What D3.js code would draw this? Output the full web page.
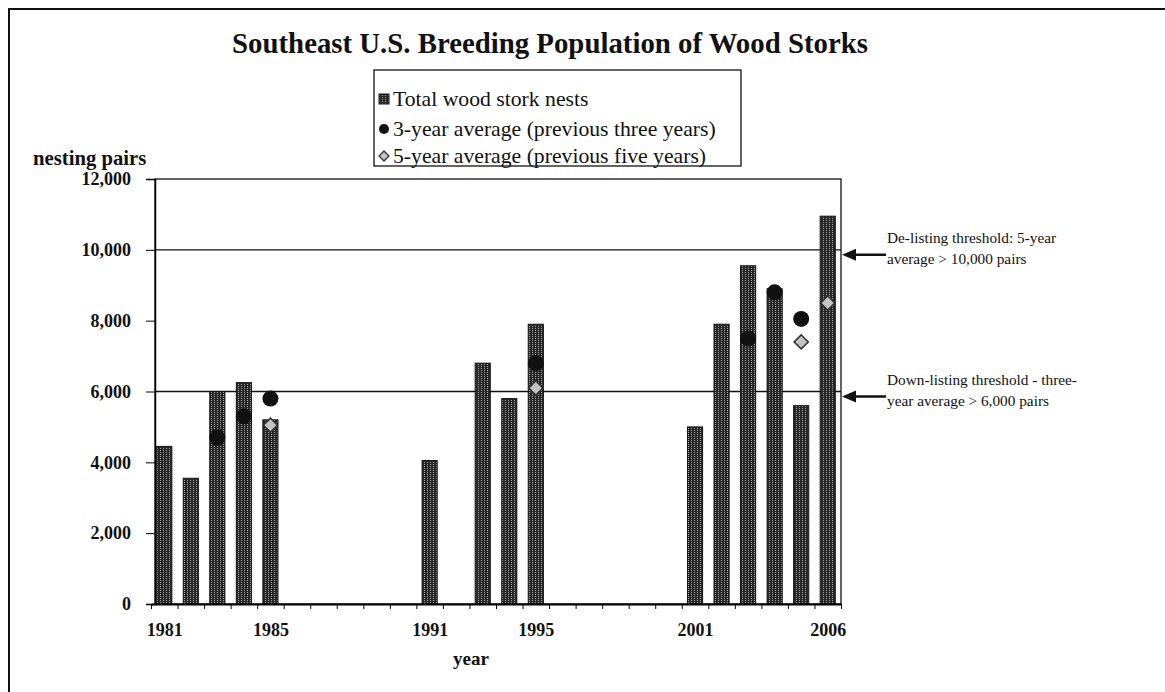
<!DOCTYPE html>
<html>
<head>
<meta charset="utf-8">
<script src="https://d3js.org/d3.v7.min.js"></script>
<style>
  body { margin: 0; background: #fff; }
  text { font-family: "Liberation Serif", "Times New Roman", serif; fill: #111; }
</style>
</head>
<body>
<svg width="1165" height="692"></svg>
<script>
// nests counted per year (gaps = no survey)
var nestYears = [1981, 1982, 1983, 1984, 1985, 1991, 1993, 1994, 1995, 2001, 2002, 2003, 2004, 2005, 2006];
var nests     = [4450, 3550, 6000, 6250, 5200, 4050, 6800, 5800, 7900, 5000, 7900, 9550, 8900, 5600, 10950];

var avg3Years = [1983, 1984, 1985, 1995, 2003, 2004, 2005];
var avg3      = [4700, 5300, 5800, 6800, 7500, 8800, 8050];

var avg5Years = [1985, 1995, 2005, 2006];
var avg5      = [5050, 6100, 7400, 8500];

var yTicks = [0, 2000, 4000, 6000, 8000, 10000, 12000];
var xLabelYears = [1981, 1985, 1991, 1995, 2001, 2006];

var thresholds = [10000, 6000];
var thresholdNotes = [
  ["De-listing threshold: 5-year", "average > 10,000 pairs"],
  ["Down-listing threshold - three-", "year average > 6,000 pairs"]
];

var legendLabels = ["Total wood stork nests",
                    "3-year average (previous three years)",
                    "5-year average (previous five years)"];

var svg = d3.select("svg"),
    width = +svg.attr("width"),
    height = +svg.attr("height");

var plotL = 155, plotR = 841, plotT = 179, plotB = 604;

// year axis: one slot per year, bars sit in the middle of a slot
var x = d3.scaleLinear().domain([1980.5, 2006.5]).range([151, plotR]);
var y = d3.scaleLinear().domain([0, 12000]).range([plotB, plotT]);
var step = x(1) - x(0);
var barW = step * 0.57;

// stippled fill for the bars
var defs = svg.append("defs");
var pat = defs.append("pattern")
    .attr("id", "stipple")
    .attr("width", 3).attr("height", 2)
    .attr("patternUnits", "userSpaceOnUse");
pat.append("rect").attr("width", 3).attr("height", 2).attr("fill", "#282828");
pat.append("rect").attr("x", 1).attr("width", 1).attr("height", 1).attr("fill", "#a0a0a0");

// page frame
svg.append("path")
    .attr("d", "M9," + height + "V9H" + width)
    .attr("fill", "none")
    .attr("stroke", "#111")
    .attr("stroke-width", 2);

svg.append("text")
    .attr("x", 550).attr("y", 53)
    .attr("text-anchor", "middle")
    .attr("font-size", 28.8)
    .attr("font-weight", "bold")
    .text("Southeast U.S. Breeding Population of Wood Storks");

// plot box
svg.append("rect")
    .attr("x", plotL).attr("y", plotT)
    .attr("width", plotR - plotL).attr("height", plotB - plotT)
    .attr("fill", "none")
    .attr("stroke", "#111")
    .attr("stroke-width", 1.3);

svg.append("g")
    .attr("class", "thresholds")
  .selectAll("line")
  .data(thresholds)
  .enter().append("line")
    .attr("x1", plotL).attr("x2", plotR)
    .attr("y1", function(d) { return y(d); })
    .attr("y2", function(d) { return y(d); })
    .attr("stroke", "#111")
    .attr("stroke-width", 1.3);

var bars = nestYears.map(function(yr, i) { return {year: yr, value: nests[i]}; });

svg.append("g")
    .attr("class", "bars")
  .selectAll("rect")
  .data(bars)
  .enter().append("rect")
    .attr("x", function(d) { return x(d.year) - barW / 2; })
    .attr("y", function(d) { return y(d.value); })
    .attr("width", barW)
    .attr("height", function(d) { return plotB - y(d.value); })
    .attr("fill", "url(#stipple)")
    .attr("stroke", "#111")
    .attr("stroke-width", 1);

var dots3 = avg3Years.map(function(yr, i) { return {year: yr, value: avg3[i]}; });
var dots5 = avg5Years.map(function(yr, i) { return {year: yr, value: avg5[i]}; });

svg.append("g")
    .attr("class", "avg3")
  .selectAll("circle")
  .data(dots3)
  .enter().append("circle")
    .attr("cx", function(d) { return x(d.year); })
    .attr("cy", function(d) { return y(d.value); })
    .attr("r", 8)
    .attr("fill", "#111");

// 5-year marker: a square turned 45 degrees
var diamond = d3.symbol().type(d3.symbolSquare).size(100);

svg.append("g")
    .attr("class", "avg5")
  .selectAll("path")
  .data(dots5)
  .enter().append("path")
    .attr("transform", function(d) { return "translate(" + x(d.year) + "," + y(d.value) + ") rotate(45)"; })
    .attr("d", diamond)
    .attr("fill", "#c4c4c4")
    .attr("stroke", "#333")
    .attr("stroke-width", 1.6);

// axes
var yAxis = d3.axisLeft(y)
    .tickValues(yTicks)
    .tickFormat(d3.format(","))
    .tickSize(9)
    .tickPadding(15);

var gy = svg.append("g")
    .attr("transform", "translate(" + plotL + ",0)")
    .call(yAxis);
gy.select(".domain").attr("stroke-width", 1.5);
gy.selectAll("text")
    .attr("font-size", 18)
    .attr("font-weight", "bold")
    .attr("font-family", "Liberation Serif, serif");

var slotEdges = d3.range(1980.5, 2007, 1);

var gx = svg.append("g")
    .attr("transform", "translate(0," + plotB + ")")
    .call(d3.axisBottom(x).tickValues(slotEdges).tickFormat("").tickSize(5).tickSizeOuter(0));
gx.select(".domain").attr("stroke-width", 2);

var gxl = svg.append("g")
    .attr("transform", "translate(0," + plotB + ")")
    .call(d3.axisBottom(x).tickValues(xLabelYears).tickFormat(d3.format("d")).tickSize(0).tickPadding(19));
gxl.select(".domain").remove();
gxl.selectAll("text")
    .attr("font-size", 18)
    .attr("font-weight", "bold")
    .attr("font-family", "Liberation Serif, serif");

svg.append("text")
    .attr("x", 33).attr("y", 165)
    .attr("font-size", 20.7)
    .attr("font-weight", "bold")
    .text("nesting pairs");

svg.append("text")
    .attr("x", 471).attr("y", 665)
    .attr("text-anchor", "middle")
    .attr("font-size", 19)
    .attr("font-weight", "bold")
    .text("year");

// threshold notes with arrows
var notes = svg.append("g").attr("class", "notes")
  .selectAll("g")
  .data(thresholds)
  .enter().append("g")
    .attr("transform", function(d) { return "translate(0," + y(d) + ")"; });

notes.append("line")
    .attr("x1", 852).attr("x2", 886)
    .attr("y1", 5).attr("y2", 5)
    .attr("stroke", "#111")
    .attr("stroke-width", 2.5);

notes.append("path")
    .attr("d", "M842,5L856,-1L856,11Z")
    .attr("fill", "#111");

notes.append("text")
    .attr("x", 887).attr("y", -7)
    .attr("font-size", 15.3)
    .text(function(d, i) { return thresholdNotes[i][0]; });

notes.append("text")
    .attr("x", 887).attr("y", 14)
    .attr("font-size", 15.3)
    .text(function(d, i) { return thresholdNotes[i][1]; });

// legend
var legend = svg.append("g").attr("class", "legend");
legend.append("rect")
    .attr("x", 374).attr("y", 70)
    .attr("width", 367).attr("height", 96)
    .attr("fill", "#fff")
    .attr("stroke", "#111")
    .attr("stroke-width", 1.3);

var rowY = [99, 129, 156];
var items = legend.selectAll("g.item")
  .data(legendLabels)
  .enter().append("g")
    .attr("class", "item")
    .attr("transform", function(d, i) { return "translate(384," + rowY[i] + ")"; });

items.append("text")
    .attr("x", 9).attr("y", 7)
    .attr("font-size", 21.7)
    .text(function(d) { return d; });

items.filter(function(d, i) { return i === 0; })
  .append("rect")
    .attr("x", -5).attr("y", -5).attr("width", 10).attr("height", 10)
    .attr("fill", "url(#stipple)").attr("stroke", "#111");

items.filter(function(d, i) { return i === 1; })
  .append("circle")
    .attr("r", 5).attr("fill", "#111");

items.filter(function(d, i) { return i === 2; })
  .append("path")
    .attr("transform", "rotate(45)")
    .attr("d", d3.symbol().type(d3.symbolSquare).size(50))
    .attr("fill", "#c4c4c4").attr("stroke", "#333").attr("stroke-width", 1.3);
</script>
</body>
</html>
